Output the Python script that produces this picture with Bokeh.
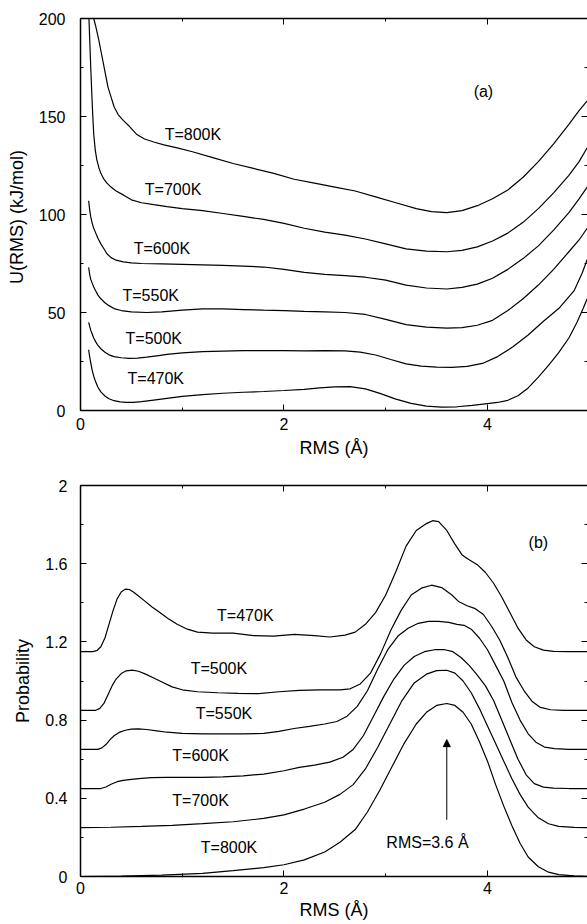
from bokeh.plotting import figure
from bokeh.layouts import column
from bokeh.models import LinearAxis, FixedTicker, Range1d, ColumnDataSource, Arrow, NormalHead
from bokeh.core.properties import value
from bokeh.embed import file_html
from bokeh.resources import INLINE

FONT = "Liberation Sans"

# ---------------- panel (a): U(RMS) ----------------
x_800_a = [0.125, 0.13, 0.15, 0.18, 0.21, 0.24, 0.27, 0.30, 0.33, 0.37, 0.42, 0.48, 0.55, 0.63, 0.72, 0.82, 0.95, 1.1, 1.3, 1.5, 1.7, 1.9, 2.1, 2.3, 2.5, 2.7, 2.9, 3.1, 3.3, 3.45, 3.6, 3.75, 3.9, 4.05, 4.2, 4.35, 4.5, 4.65, 4.8, 4.9, 4.98]
u_800 = [210, 200, 196, 189, 181, 173, 165, 160, 155, 151, 148, 145, 141, 138.5, 137, 135.5, 134, 132, 129, 126, 123.5, 121, 118, 116, 114, 112, 109, 106, 103, 101.5, 101, 102, 104.5, 108, 112.5, 119, 127, 136, 146, 153, 158]

x_700_a = [0.08, 0.09, 0.1, 0.11, 0.12, 0.13, 0.145, 0.16, 0.18, 0.2, 0.23, 0.26, 0.3, 0.35, 0.42, 0.5, 0.6, 0.72, 0.85, 1.0, 1.2, 1.4, 1.6, 1.8, 2.0, 2.2, 2.4, 2.6, 2.8, 3.0, 3.2, 3.4, 3.6, 3.75, 3.9, 4.05, 4.2, 4.35, 4.5, 4.65, 4.8, 4.9, 4.98]
u_700 = [205, 190, 176, 163, 151, 141, 133, 128, 124, 121, 118, 116, 114, 112, 110, 107.5, 106, 105, 104, 103, 102, 100.5, 99, 97.5, 95.5, 93, 91, 89.5, 87.5, 85, 82.5, 81.3, 81, 81.7, 83.5, 86.5, 90.5, 96, 103, 111, 120, 127, 134]

x_600_a = [0.08, 0.09, 0.1, 0.115, 0.13, 0.15, 0.17, 0.2, 0.23, 0.26, 0.3, 0.35, 0.42, 0.5, 0.6, 0.8, 1.0, 1.2, 1.4, 1.6, 1.8, 2.0, 2.2, 2.4, 2.6, 2.8, 3.0, 3.2, 3.4, 3.6, 3.75, 3.9, 4.05, 4.2, 4.35, 4.5, 4.65, 4.8, 4.9, 4.98]
u_600 = [107, 102.5, 99, 95.5, 93, 90.5, 88, 85, 82.5, 80, 78, 76.7, 75.8, 75.3, 75, 74.8, 74.6, 74.3, 74, 73.7, 73.2, 72, 70.5, 69.5, 68.8, 68, 66.5, 64, 62.5, 62, 62.8, 64.5, 67.5, 72, 77.5, 84, 92, 101, 108, 114]

x_550_a = [0.08, 0.09, 0.1, 0.115, 0.13, 0.15, 0.17, 0.2, 0.24, 0.28, 0.33, 0.4, 0.5, 0.65, 0.8, 1.0, 1.2, 1.4, 1.6, 1.8, 2.0, 2.2, 2.4, 2.6, 2.8, 3.0, 3.2, 3.4, 3.6, 3.75, 3.9, 4.05, 4.2, 4.35, 4.5, 4.65, 4.8, 4.9, 4.98]
u_550 = [73, 69.5, 67, 65, 63, 61, 59, 57, 55, 53.5, 52, 51, 50.3, 50, 50.3, 51.2, 51.8, 51.8, 51.5, 51.2, 51, 50.6, 50.3, 50, 49, 46.5, 43.8, 42.5, 42, 42.3, 43.5, 46, 51, 57, 64, 72, 81, 87, 93]

x_500_a = [0.08, 0.09, 0.1, 0.115, 0.13, 0.15, 0.17, 0.2, 0.24, 0.28, 0.33, 0.4, 0.48, 0.56, 0.65, 0.75, 0.85, 1.0, 1.2, 1.4, 1.6, 1.8, 2.0, 2.2, 2.4, 2.6, 2.75, 2.9, 3.05, 3.2, 3.35, 3.5, 3.65, 3.8, 3.95, 4.1, 4.25, 4.4, 4.55, 4.7, 4.85, 4.93, 4.98]
u_500 = [45, 43, 41, 39, 37, 35, 33.3, 31.5, 29.7, 28.4, 27.5, 26.9, 26.6, 26.7, 27.2, 27.9, 28.6, 29.4, 30, 30.3, 30.5, 30.6, 30.5, 30.4, 30.5, 30.4, 29.8, 28.3, 26, 23.8, 22.6, 22.1, 22, 22.5, 24, 27.5, 32.5, 38.5, 45.5, 52, 61, 70, 77]

x_470_a = [0.08, 0.09, 0.1, 0.115, 0.13, 0.15, 0.17, 0.2, 0.24, 0.28, 0.33, 0.39, 0.45, 0.52, 0.6, 0.7, 0.85, 1.0, 1.2, 1.4, 1.6, 1.8, 2.0, 2.2, 2.35, 2.5, 2.65, 2.8, 2.95, 3.1, 3.25, 3.4, 3.55, 3.7, 3.85, 4.0, 4.1, 4.2, 4.3, 4.4, 4.5, 4.6, 4.7, 4.8, 4.88, 4.94, 4.98]
u_470 = [31, 27.5, 24.5, 20.5, 17.5, 14.5, 12, 9.5, 7.4, 6, 5, 4.4, 4.1, 4.1, 4.5, 5.2, 6.2, 7.2, 8.1, 8.8, 9.3, 9.7, 10.2, 10.8, 11.5, 12.1, 12.2, 11, 8.6, 5.8, 3.6, 2.2, 1.7, 1.9, 2.6, 3.5, 4.1, 5.2, 7.5, 11.5, 17, 23, 29.5, 37, 45, 52, 57]

labels_a = ["T=800K", "T=700K", "T=600K", "T=550K", "T=500K", "T=470K", "(a)"]
labels_a_x = [1.105, 0.91, 0.8, 0.69, 0.72, 0.74, 3.96]
labels_a_y = [140.8, 113, 82.5, 58.7, 36.7, 16.3, 163]

# ---------------- panel (b): Probability ----------------
x_470_b = [0, 0.12, 0.16, 0.2, 0.24, 0.28, 0.32, 0.36, 0.4, 0.44, 0.48, 0.52, 0.57, 0.63, 0.7, 0.78, 0.86, 0.95, 1.05, 1.15, 1.3, 1.5, 1.7, 1.9, 2.1, 2.3, 2.45, 2.6, 2.7, 2.8, 2.9, 3.0, 3.1, 3.2, 3.3, 3.4, 3.46, 3.52, 3.6, 3.68, 3.75, 3.82, 3.9, 3.98, 4.06, 4.14, 4.22, 4.3, 4.38, 4.46, 4.55, 4.65, 4.8, 5.0]
p_470 = [1.15, 1.15, 1.155, 1.175, 1.22, 1.29, 1.36, 1.42, 1.455, 1.47, 1.468, 1.455, 1.435, 1.41, 1.38, 1.35, 1.32, 1.29, 1.265, 1.25, 1.245, 1.245, 1.232, 1.23, 1.238, 1.232, 1.225, 1.235, 1.25, 1.29, 1.35, 1.44, 1.56, 1.69, 1.77, 1.805, 1.82, 1.815, 1.77, 1.70, 1.645, 1.62, 1.595, 1.555, 1.5, 1.43, 1.35, 1.27, 1.21, 1.175, 1.158, 1.152, 1.15, 1.15]

x_500_b = [0, 0.15, 0.19, 0.23, 0.27, 0.31, 0.35, 0.4, 0.45, 0.51, 0.57, 0.64, 0.72, 0.8, 0.9, 1.0, 1.15, 1.35, 1.55, 1.75, 1.95, 2.15, 2.35, 2.55, 2.65, 2.75, 2.85, 2.95, 3.05, 3.15, 3.25, 3.35, 3.45, 3.55, 3.65, 3.72, 3.8, 3.88, 3.96, 4.04, 4.12, 4.2, 4.28, 4.36, 4.44, 4.52, 4.62, 4.75, 5.0]
p_500 = [0.85, 0.85, 0.86, 0.885, 0.93, 0.975, 1.01, 1.038, 1.052, 1.056, 1.05, 1.035, 1.015, 0.995, 0.97, 0.955, 0.945, 0.94, 0.937, 0.935, 0.945, 0.952, 0.955, 0.955, 0.96, 0.985, 1.04, 1.14, 1.26, 1.36, 1.44, 1.475, 1.49, 1.478, 1.44, 1.405, 1.385, 1.37, 1.34, 1.28, 1.21, 1.12, 1.02, 0.95, 0.895, 0.865, 0.853, 0.85, 0.85]

x_550_b = [0, 0.17, 0.21, 0.25, 0.29, 0.33, 0.38, 0.44, 0.5, 0.57, 0.65, 0.75, 0.85, 1.0, 1.2, 1.4, 1.6, 1.8, 1.95, 2.1, 2.25, 2.4, 2.52, 2.62, 2.72, 2.82, 2.92, 3.02, 3.12, 3.22, 3.32, 3.42, 3.52, 3.62, 3.7, 3.77, 3.84, 3.92, 4.0, 4.08, 4.16, 4.24, 4.32, 4.4, 4.48, 4.56, 4.66, 4.8, 5.0]
p_550 = [0.65, 0.65, 0.658, 0.675, 0.7, 0.72, 0.737, 0.748, 0.754, 0.755, 0.752, 0.745, 0.738, 0.732, 0.73, 0.73, 0.73, 0.732, 0.742, 0.757, 0.768, 0.78, 0.793, 0.82, 0.87, 0.95, 1.06, 1.16, 1.23, 1.27, 1.295, 1.305, 1.305, 1.3, 1.29, 1.285, 1.265, 1.22, 1.16, 1.08, 1.0, 0.89, 0.80, 0.73, 0.685, 0.662, 0.654, 0.65, 0.65]

x_600_b = [0, 0.2, 0.25, 0.3, 0.36, 0.42, 0.5, 0.6, 0.7, 0.85, 1.0, 1.2, 1.4, 1.6, 1.8, 2.0, 2.15, 2.3, 2.45, 2.58, 2.68, 2.78, 2.88, 2.98, 3.08, 3.18, 3.28, 3.38, 3.48, 3.58, 3.66, 3.74, 3.82, 3.9, 3.98, 4.06, 4.14, 4.22, 4.3, 4.38, 4.46, 4.55, 4.65, 4.8, 5.0]
p_600 = [0.45, 0.45, 0.458, 0.472, 0.485, 0.492, 0.497, 0.502, 0.506, 0.507, 0.507, 0.507, 0.51, 0.515, 0.524, 0.541, 0.558, 0.57, 0.585, 0.61, 0.65, 0.72, 0.82, 0.92, 1.01, 1.08, 1.125, 1.15, 1.16, 1.16, 1.15, 1.12, 1.08, 1.03, 0.975, 0.9, 0.8, 0.7, 0.6, 0.52, 0.475, 0.457, 0.452, 0.45, 0.45]

x_700_b = [0, 0.3, 0.6, 0.9, 1.2, 1.5, 1.8, 2.0, 2.2, 2.4, 2.55, 2.68, 2.8, 2.92, 3.04, 3.16, 3.28, 3.4, 3.5, 3.6, 3.68, 3.76, 3.84, 3.92, 4.0, 4.08, 4.16, 4.24, 4.32, 4.4, 4.5, 4.6, 4.7, 4.85, 5.0]
p_700 = [0.25, 0.252, 0.256, 0.262, 0.27, 0.28, 0.297, 0.315, 0.345, 0.38, 0.42, 0.47, 0.55, 0.66, 0.78, 0.9, 0.99, 1.035, 1.053, 1.055, 1.04, 1.0, 0.94, 0.86, 0.77, 0.68, 0.59, 0.5, 0.42, 0.355, 0.3, 0.27, 0.256, 0.251, 0.25]

x_800_b = [0, 0.4, 0.8, 1.2, 1.5, 1.8, 2.0, 2.2, 2.4, 2.55, 2.7, 2.82, 2.94, 3.06, 3.18, 3.3, 3.4, 3.5, 3.6, 3.68, 3.76, 3.84, 3.92, 4.0, 4.08, 4.16, 4.24, 4.32, 4.4, 4.5, 4.6, 4.7, 4.85, 5.0]
p_800 = [0.0, 0.002, 0.007, 0.016, 0.03, 0.045, 0.06, 0.085, 0.125, 0.175, 0.24, 0.33, 0.44, 0.56, 0.68, 0.78, 0.84, 0.875, 0.885, 0.875, 0.84, 0.78, 0.69, 0.59, 0.47, 0.36, 0.26, 0.17, 0.1, 0.05, 0.022, 0.01, 0.003, 0.0]

labels_b = ["T=470K", "T=500K", "T=550K", "T=600K", "T=700K", "T=800K", "(b)", "RMS=3.6 \u00c5"]
labels_b_x = [1.62, 1.36, 1.41, 1.18, 1.18, 1.46, 4.5, 3.41]
labels_b_y = [1.333, 1.062, 0.832, 0.618, 0.388, 0.148, 1.706, 0.175]

arrow_x = 3.6
arrow_y_start = 0.29
arrow_y_end = 0.70

x_ticks = [0, 2, 4]
x_minor = [1, 3, 5]
ya_ticks = [0, 50, 100, 150, 200]
ya_minor = [25, 75, 125, 175]
yb_ticks = [0, 0.4, 0.8, 1.2, 1.6, 2.0]
yb_minor = [0.2, 0.6, 1.0, 1.4, 1.8]
yb_labels = {0: "0", 0.4: "0.4", 0.8: "0.8", 1.2: "1.2", 1.6: "1.6", 2.0: "2"}

series_a = [(x_800_a, u_800), (x_700_a, u_700), (x_600_a, u_600),
            (x_550_a, u_550), (x_500_a, u_500), (x_470_a, u_470)]
series_b = [(x_470_b, p_470), (x_500_b, p_500), (x_550_b, p_550),
            (x_600_b, p_600), (x_700_b, p_700), (x_800_b, p_800)]
for xs, ys in series_a + series_b:
    assert len(xs) == len(ys), (len(xs), len(ys))

XMAX = 4.983


def style_axis(ax, show_labels=True):
    ax.major_tick_in = 6
    ax.major_tick_out = 0
    ax.minor_tick_in = 3
    ax.minor_tick_out = 0
    ax.axis_line_width = 1.5
    ax.axis_line_color = "black"
    ax.major_tick_line_color = "black"
    ax.minor_tick_line_color = "black"
    ax.major_label_text_font = FONT
    ax.axis_label_text_font = FONT
    ax.axis_label_text_font_size = "18px"
    ax.axis_label_text_font_style = "normal"
    ax.axis_label_text_color = "black"
    if show_labels:
        ax.major_label_text_font_size = "16px"
        ax.major_label_text_color = "black"
    else:
        ax.major_label_text_font_size = "0px"
        ax.major_label_text_color = None
        ax.major_label_standoff = 0


def make_panel(height, yrange, yticks, yminor, ylabel, top_border, bottom_border,
               ytick_standoff, ylabel_standoff, xtick_standoff, xlabel_standoff, overrides=None):
    p = figure(width=587, height=height, x_range=Range1d(0, XMAX), y_range=Range1d(*yrange),
               output_backend="svg", toolbar_location=None,
               min_border_left=80, min_border_right=0, min_border_top=top_border,
               min_border_bottom=bottom_border,
               x_axis_label="RMS (\u00c5)", y_axis_label=ylabel)
    p.outline_line_color = None
    p.xgrid.visible = False
    p.ygrid.visible = False
    p.background_fill_color = "white"
    p.border_fill_color = "white"

    xa = p.below[0]
    xa.ticker = FixedTicker(ticks=x_ticks, minor_ticks=x_minor)
    style_axis(xa)
    xa.major_label_standoff = xtick_standoff
    xa.axis_label_standoff = xlabel_standoff

    ya = p.left[0]
    ya.ticker = FixedTicker(ticks=yticks, minor_ticks=yminor)
    style_axis(ya)
    ya.major_label_standoff = ytick_standoff
    ya.axis_label_standoff = ylabel_standoff
    if overrides:
        ya.major_label_overrides = overrides

    top = LinearAxis(ticker=FixedTicker(ticks=x_ticks, minor_ticks=x_minor))
    style_axis(top, show_labels=False)
    p.add_layout(top, "above")

    right = LinearAxis(ticker=FixedTicker(ticks=yticks, minor_ticks=yminor))
    style_axis(right, show_labels=False)
    right.axis_line_color = None
    p.add_layout(right, "right")
    return p


pa = make_panel(470, (0, 200), ya_ticks, ya_minor, "U(RMS)  (kJ/mol)", 18, 60, 15, 9, 7, 5)
for xs, ys in series_a:
    pa.line(xs, ys, line_color="black", line_width=1.2)
src_a = ColumnDataSource(dict(x=labels_a_x, y=labels_a_y, t=labels_a))
pa.text("x", "y", text="t", source=src_a, text_font=value(FONT), text_font_size="16px",
        text_align="center", text_baseline="middle", text_color="black")

pb = make_panel(454, (0, 2), yb_ticks, yb_minor, "Probability", 15, 48, 13, 9, 5, 3, yb_labels)
for xs, ys in series_b:
    pb.line(xs, ys, line_color="black", line_width=1.2)
src_b = ColumnDataSource(dict(x=labels_b_x, y=labels_b_y, t=labels_b))
pb.text("x", "y", text="t", source=src_b, text_font=value(FONT), text_font_size="16px",
        text_align="center", text_baseline="middle", text_color="black")
pb.add_layout(Arrow(end=NormalHead(size=7, fill_color="black", line_color="black", line_width=1),
                    x_start=arrow_x, y_start=arrow_y_start, x_end=arrow_x, y_end=arrow_y_end,
                    line_color="black", line_width=1))

layout = column(pa, pb, spacing=0)
open("out.html", "w").write(file_html(layout, INLINE))
